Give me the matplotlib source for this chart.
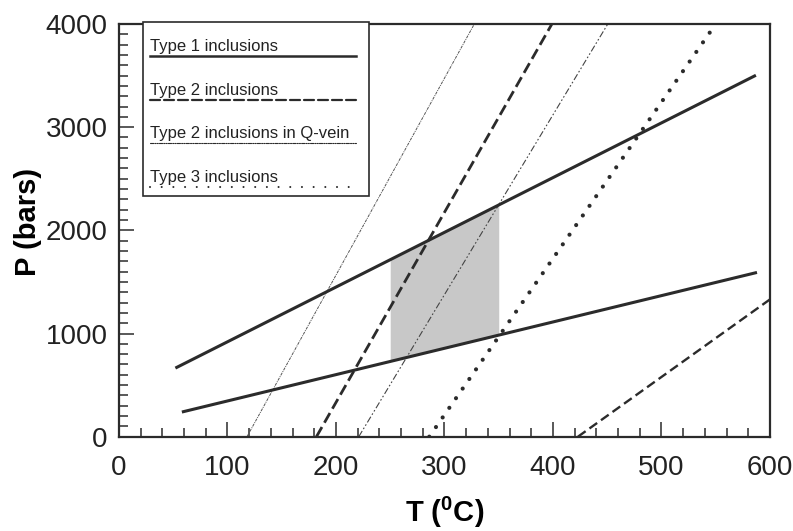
import matplotlib
matplotlib.use("Agg")
import matplotlib.pyplot as plt
from matplotlib.ticker import MultipleLocator
from matplotlib.patches import Rectangle

# Isochoren (T in °C, P in bar)
type1_upper_T = [52, 587]
type1_upper_P = [665, 3503]
type1_lower_T = [58, 588]
type1_lower_P = [239, 1592]

type2_T = [182, 399]
type2_P = [0, 4000]
type2b_T = [423, 600]
type2b_P = [0, 1331]

qvein_a_T = [118, 327.5]
qvein_a_P = [0, 4000]
qvein_b_T = [221, 450.5]
qvein_b_P = [0, 4000]

type3_T = [286, 546]
type3_P = [0, 3940]

# grauer Bereich
shade_T = [250, 350]
shade_low = [730, 985]
shade_high = [1717, 2247]

legend_labels = ["Type 1 inclusions", "Type 2 inclusions",
                 "Type 2 inclusions in Q-vein", "Type 3 inclusions"]

C = "#2b2b2b"
plt.rcParams["font.family"] = ["Liberation Sans", "DejaVu Sans"]
plt.rcParams["mathtext.fontset"] = "custom"
plt.rcParams["mathtext.rm"] = "Liberation Sans"

fig = plt.figure(figsize=(7.93, 5.31), dpi=100)
ax = fig.add_axes([0.150, 0.1776, 0.821, 0.7772])

ax.fill_between(shade_T, shade_low, shade_high, color="#c8c8c8", lw=0, zorder=1)

dash2 = (0, (4, 1.8))
qv_a = (0, (3, 1, 1, 1))
qv_b = (0, (6, 2, 1.5, 2, 1.5, 2))
dots = (0, (0.01, 2.8))

ax.plot(type1_upper_T, type1_upper_P, color=C, lw=2.2, solid_capstyle="butt", zorder=3)
ax.plot(type1_lower_T, type1_lower_P, color=C, lw=2.2, solid_capstyle="butt", zorder=3)
ax.plot(type2_T, type2_P, color=C, lw=2.0, linestyle=dash2, zorder=3)
ax.plot(type2b_T, type2b_P, color=C, lw=1.7, linestyle=(0, (4, 2)), zorder=3)
ax.plot(qvein_a_T, qvein_a_P, color="#555555", lw=0.7, linestyle=qv_a, zorder=2)
ax.plot(qvein_b_T, qvein_b_P, color="#444444", lw=0.8, linestyle=qv_b, zorder=2)
ax.plot(type3_T, type3_P, color=C, lw=3.0, linestyle=dots, dash_capstyle="round", zorder=3)

ax.set_xlim(0, 600)
ax.set_ylim(0, 4000)
ax.xaxis.set_major_locator(MultipleLocator(100))
ax.xaxis.set_minor_locator(MultipleLocator(20))
ax.yaxis.set_major_locator(MultipleLocator(1000))
ax.yaxis.set_minor_locator(MultipleLocator(100))
ax.tick_params(which="both", direction="in", color=C, width=1.1, top=False, right=False)
ax.tick_params(which="major", length=11, labelsize=20, labelcolor="#222222")
ax.tick_params(axis="x", which="major", pad=13)
ax.tick_params(axis="y", which="major", pad=8)
ax.tick_params(which="minor", length=6.5)
for s in ax.spines.values():
    s.set_color(C)
    s.set_linewidth(1.6)

ax.set_xlabel(r"T ($\mathregular{^0}$C)", fontsize=21, fontweight="bold")
ax.set_ylabel("P (bars)", fontsize=21, fontweight="bold")
ax.xaxis.set_label_coords(0.5, -0.141)
ax.yaxis.set_label_coords(-0.118, 0.52)

# Legende: Text oben, Linienmuster darunter
ax.add_patch(Rectangle((0.0364, 0.584), 0.348, 0.42, transform=ax.transAxes,
                       fill=True, facecolor="white", edgecolor=C, lw=1.2, zorder=5, clip_on=False))
line_y = [0.9225, 0.8157, 0.7115, 0.6049]
styles = [dict(ls="-", lw=1.8), dict(ls=(0, (4.5, 1.8)), lw=1.6),
          dict(ls=(0, (3, 1, 1, 1, 1, 1)), lw=0.8), dict(ls=(0, (0.01, 5.6)), lw=1.5)]
for lab, yy, st in zip(legend_labels, line_y, styles):
    ax.plot([0.0476, 0.364], [yy, yy], transform=ax.transAxes, color=C,
            dash_capstyle="round", zorder=6, clip_on=False, **st)
    ax.text(0.0476, yy + 0.004, lab, transform=ax.transAxes, fontsize=12,
            color="#222222", ha="left", va="bottom", zorder=6)

fig.savefig("out.png", dpi=100)
